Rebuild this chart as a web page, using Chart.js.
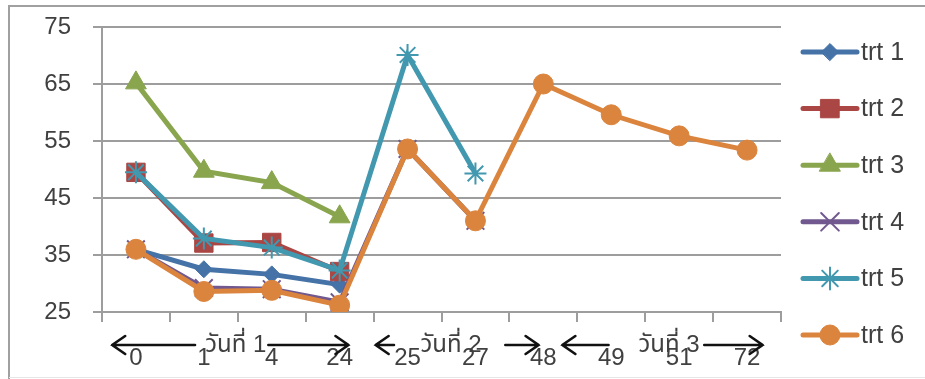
<!DOCTYPE html>
<html>
<head>
<meta charset="utf-8">
<script src="https://cdn.jsdelivr.net/npm/chart.js@4/dist/chart.umd.min.js"></script>
<style>
  html, body { margin: 0; padding: 0; background: #fff; }
  #wrap { width: 925px; height: 379px; }
</style>
</head>
<body>
<div id="wrap"><canvas id="chart" width="925" height="379"></canvas></div>
<script>
// hours after start, grouped into three days
const hours = ["0", "1", "4", "24", "25", "27", "48", "49", "51", "72"];
const dayLabels = ["วันที่ 1", "วันที่ 2", "วันที่ 3"];

const trt1 = [36.0, 32.5, 31.6, 29.8, null, null, null, null, null, null];
const trt2 = [49.5, 37.1, 37.2, 32.1, null, null, null, null, null, null];
const trt3 = [65.2, 49.7, 47.7, 41.7, null, null, null, null, null, null];
const trt4 = [36.0, 29.2, 29.0, 26.7, 53.6, 41.0, null, null, null, null];
const trt5 = [49.5, 37.9, 36.3, 32.3, 70.1, 49.3, null, null, null, null];
const trt6 = [36.0, 28.6, 28.8, 26.2, 53.6, 41.0, 65.0, 59.6, 55.9, 53.4];

const yTicks = [25, 35, 45, 55, 65, 75];

const FONT = '"Liberation Sans", "Noto Sans Thai", "DejaVu Sans", sans-serif';
const TEXT = "#404040";
const GRID = "#9d9d9d";

function series(label, data, color, style, radius, order) {
  const cross = style === "crossRot" || style === "star";
  return {
    label, data,
    borderColor: color,
    backgroundColor: color,
    borderWidth: 5,
    pointStyle: style,
    pointRadius: radius,
    pointHoverRadius: radius,
    pointBackgroundColor: color,
    pointBorderColor: color,
    pointBorderWidth: cross ? 2 : 1,
    tension: 0,
    spanGaps: false,
    order
  };
}

const datasets = [
  series("trt 1", trt1, "#4572A7", "rectRot", 8.5, 6),
  series("trt 2", trt2, "#AA4643", "rect", 13, 5),
  series("trt 3", trt3, "#89A54E", "triangle", 12, 4),
  series("trt 4", trt4, "#71588F", "crossRot", 12.5, 3),
  series("trt 5", trt5, "#4198AF", "star", 11, 2),
  series("trt 6", trt6, "#DB843D", "circle", 10, 1)
];

// frame, day arrows and the legend are drawn by hand
const extras = {
  id: "extras",
  beforeDraw(c) {
    const ctx = c.ctx;
    ctx.save();
    ctx.fillStyle = "#fff";
    ctx.fillRect(0, 0, c.width, c.height);
    ctx.strokeStyle = "#a0a0a0";
    ctx.lineWidth = 2;
    ctx.beginPath();
    ctx.moveTo(9, 379);
    ctx.lineTo(9, 6);
    ctx.lineTo(925, 6);
    ctx.stroke();
    ctx.strokeStyle = "#e6e6e6";
    ctx.lineWidth = 1;
    ctx.beginPath();
    ctx.moveTo(9, 377.5);
    ctx.lineTo(925, 377.5);
    ctx.stroke();
    ctx.restore();
  },
  afterDraw(c) {
    const ctx = c.ctx;
    const x = c.scales.x;
    const w = (x.right - x.left) / hours.length;
    const px = u => x.left + u * w;

    // [tip left, end of left line, text left, start of right line, tip right]
    const spans = [
      [0.15, 1.37, 1.52, 2.45, 3.63],
      [4.03, 4.30, 4.69, 5.94, 6.43],
      [6.78, 7.46, 7.90, 8.87, 9.73]
    ];
    const ay = 345;
    ctx.save();
    ctx.strokeStyle = "#111";
    ctx.lineWidth = 2.6;
    ctx.lineCap = "round";
    ctx.lineJoin = "miter";
    spans.forEach(s => {
      const a = px(s[0]), b = px(s[1]), d = px(s[3]), e = px(s[4]);
      ctx.beginPath();
      ctx.moveTo(a, ay); ctx.lineTo(b, ay);
      ctx.moveTo(a + 13, ay - 9); ctx.lineTo(a, ay); ctx.lineTo(a + 13, ay + 9);
      ctx.moveTo(d, ay); ctx.lineTo(e, ay);
      ctx.moveTo(e - 13, ay - 9); ctx.lineTo(e, ay); ctx.lineTo(e - 13, ay + 9);
      ctx.stroke();
    });
    ctx.fillStyle = TEXT;
    ctx.font = "24px " + FONT;
    ctx.textBaseline = "alphabetic";
    ctx.textAlign = "left";
    dayLabels.forEach((t, i) => ctx.fillText(t, px(spans[i][2]), 352));

    // legend
    const lx1 = 803, lx2 = 857, ty0 = 52, step = 56.6;
    datasets.forEach((ds, i) => {
      const y = ty0 + i * step;
      ctx.strokeStyle = ds.borderColor;
      ctx.lineWidth = 5;
      ctx.beginPath();
      ctx.moveTo(lx1, y); ctx.lineTo(lx2, y);
      ctx.stroke();
      ctx.fillStyle = ds.pointBackgroundColor;
      ctx.strokeStyle = ds.pointBorderColor;
      ctx.lineWidth = ds.pointBorderWidth;
      Chart.helpers.drawPoint(ctx, {
        pointStyle: ds.pointStyle, radius: ds.pointRadius, rotation: 0,
        borderWidth: ds.pointBorderWidth
      }, (lx1 + lx2) / 2, y);
      ctx.fillStyle = TEXT;
      ctx.font = "25px " + FONT;
      ctx.textBaseline = "middle";
      ctx.fillText(ds.label, 861, y + 1);
    });
    ctx.restore();
  }
};

new Chart(document.getElementById("chart"), {
  type: "line",
  data: { labels: hours, datasets },
  plugins: [extras],
  options: {
    responsive: false,
    animation: false,
    devicePixelRatio: 1,
    layout: { padding: { left: 0, right: 144, top: 27, bottom: 0 } },
    plugins: { legend: { display: false }, tooltip: { enabled: false } },
    scales: {
      x: {
        type: "category",
        offset: true,
        grid: { offset: true, drawOnChartArea: false, tickLength: 10, color: GRID, lineWidth: 2 },
        border: { color: GRID, width: 2 },
        ticks: {
          maxRotation: 0, autoSkip: false, padding: 22, color: TEXT,
          font: { family: FONT, size: 24 }
        },
        afterFit(s) { s.height = 67; s.paddingLeft = 0; s.paddingRight = 0; }
      },
      y: {
        min: 25, max: 75,
        afterBuildTicks(s) { s.ticks = yTicks.map(v => ({ value: v })); },
        grid: { color: GRID, lineWidth: 2, tickLength: 9 },
        border: { color: GRID, width: 2 },
        ticks: { padding: 22, color: TEXT, font: { family: FONT, size: 24 } },
        afterFit(s) { s.width = 102; s.paddingTop = 0; s.paddingBottom = 0; }
      }
    }
  }
});
</script>
</body>
</html>
